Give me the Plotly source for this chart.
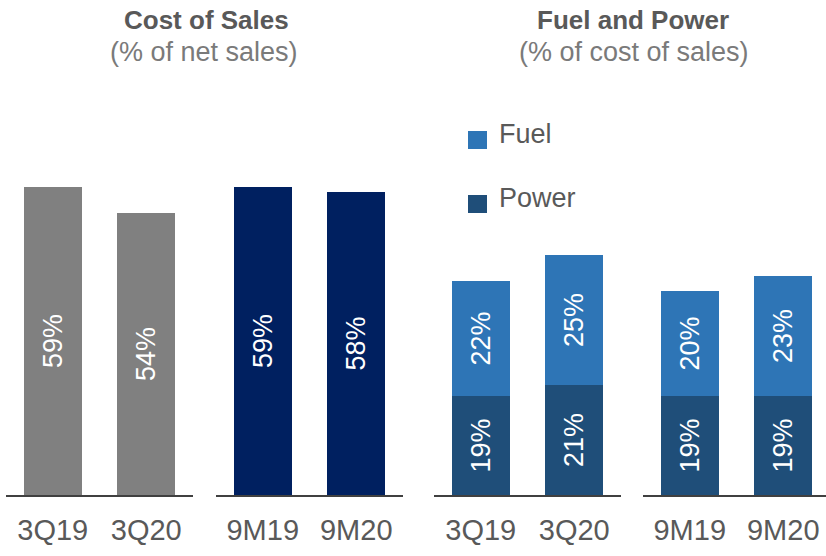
import plotly.graph_objects as go

# ---- data ----
quarter_labels = ["3Q19", "3Q20"]
ytd_labels = ["9M19", "9M20"]
cost_of_sales_q = [59, 54]
cost_of_sales_ytd = [59, 58]
fuel_q = [22, 25]
power_q = [19, 21]
fuel_ytd = [20, 23]
power_ytd = [19, 19]

GRAY = "#808080"
NAVY = "#002060"
FUEL = "#2E75B6"
POWER = "#1F4E79"
TXT = "#595959"
FONT = "Liberation Sans, Arial, sans-serif"

W, H = 826, 556
BAR_W = 0.62
BAR_FONT = dict(color="white", size=27, family=FONT)

def bar(x, y, color, xa, ya, name):
    return go.Bar(
        x=x, y=y, name=name, marker=dict(color=color, line=dict(width=0)),
        width=BAR_W, xaxis=xa, yaxis=ya, showlegend=False,
        texttemplate="%{y}%", textposition="inside", insidetextanchor="middle",
        textangle=-90, textfont=BAR_FONT, cliponaxis=False,
        hoverinfo="skip",
    )

fig = go.Figure()
fig.add_trace(bar(quarter_labels, cost_of_sales_q, GRAY, "x", "y", "Cost of sales"))
fig.add_trace(bar(ytd_labels, cost_of_sales_ytd, NAVY, "x2", "y2", "Cost of sales"))
fig.add_trace(bar(quarter_labels, power_q, POWER, "x3", "y3", "Power"))
fig.add_trace(bar(quarter_labels, fuel_q, FUEL, "x3", "y3", "Fuel"))
fig.add_trace(bar(ytd_labels, power_ytd, POWER, "x4", "y4", "Power"))
fig.add_trace(bar(ytd_labels, fuel_ytd, FUEL, "x4", "y4", "Fuel"))

def px(a, b):
    return [a / W, b / W]

YMAX = 94.8
axis_common = dict(
    type="category", showline=True, linecolor="#404040", linewidth=1.5,
    showgrid=False, zeroline=False, ticks="", fixedrange=True,
    tickfont=dict(size=29, color=TXT, family=FONT), ticklabelstandoff=8,
)
domains = [(6, 193, [-0.5, 1.5]), (216, 403, [-0.5, 1.5]),
           (434, 621, [-0.5, 1.5]), (643, 826, [-0.5, -0.5 + 183 / 93.5])]
layout = {}
for i, (a, b, rng) in enumerate(domains):
    k = "" if i == 0 else str(i + 1)
    layout["xaxis" + k] = dict(axis_common, domain=px(a, b), range=rng,
                               anchor="y" + k)
    layout["yaxis" + k] = dict(range=[0, YMAX], visible=False, anchor="x" + k,
                               domain=[0, 1], fixedrange=True)

fig.update_layout(**layout)

annotations = [
    dict(text="<b>Cost of Sales</b>", x=206 / W, y=20, font=dict(size=26, color=TXT)),
    dict(text="(% of net sales)", x=204 / W, y=52, font=dict(size=27, color="#7a7a7a")),
    dict(text="<b>Fuel and Power</b>", x=633 / W, y=20, font=dict(size=26, color=TXT)),
    dict(text="(% of cost of sales)", x=634 / W, y=52, font=dict(size=27, color="#7a7a7a")),
]
for ann in annotations:
    ann.update(xref="paper", yref="paper", showarrow=False,
               xanchor="center", yanchor="middle")
    ann["y"] = 1 - ann["y"] / 495  # convert from pixel top (plot area height 495)

legend_items = [("Fuel", FUEL, 140), ("Power", POWER, 204)]
shapes = []
for name, color, yc in legend_items:
    shapes.append(dict(type="rect", xref="paper", yref="paper",
                       x0=468 / W, x1=487 / W,
                       y0=1 - (yc + 9) / 495, y1=1 - (yc - 9) / 495,
                       fillcolor=color, line=dict(width=0)))
    annotations.append(dict(text=name, xref="paper", yref="paper",
                            x=497 / W, y=1 - (yc - 6) / 495, showarrow=False,
                            xanchor="left", yanchor="middle",
                            font=dict(size=27, color=TXT)))

fig.update_layout(
    width=W, height=H, barmode="stack", bargap=0,
    margin=dict(l=0, r=0, t=0, b=61, pad=0),
    paper_bgcolor="white", plot_bgcolor="white",
    font=dict(family=FONT, color=TXT),
    annotations=annotations, shapes=shapes,
    uniformtext=dict(minsize=10, mode="show"),
)

fig.write_html("out.html", config={"displayModeBar": False},
               post_script="document.body.style.margin='0';document.body.style.overflow='hidden';")
